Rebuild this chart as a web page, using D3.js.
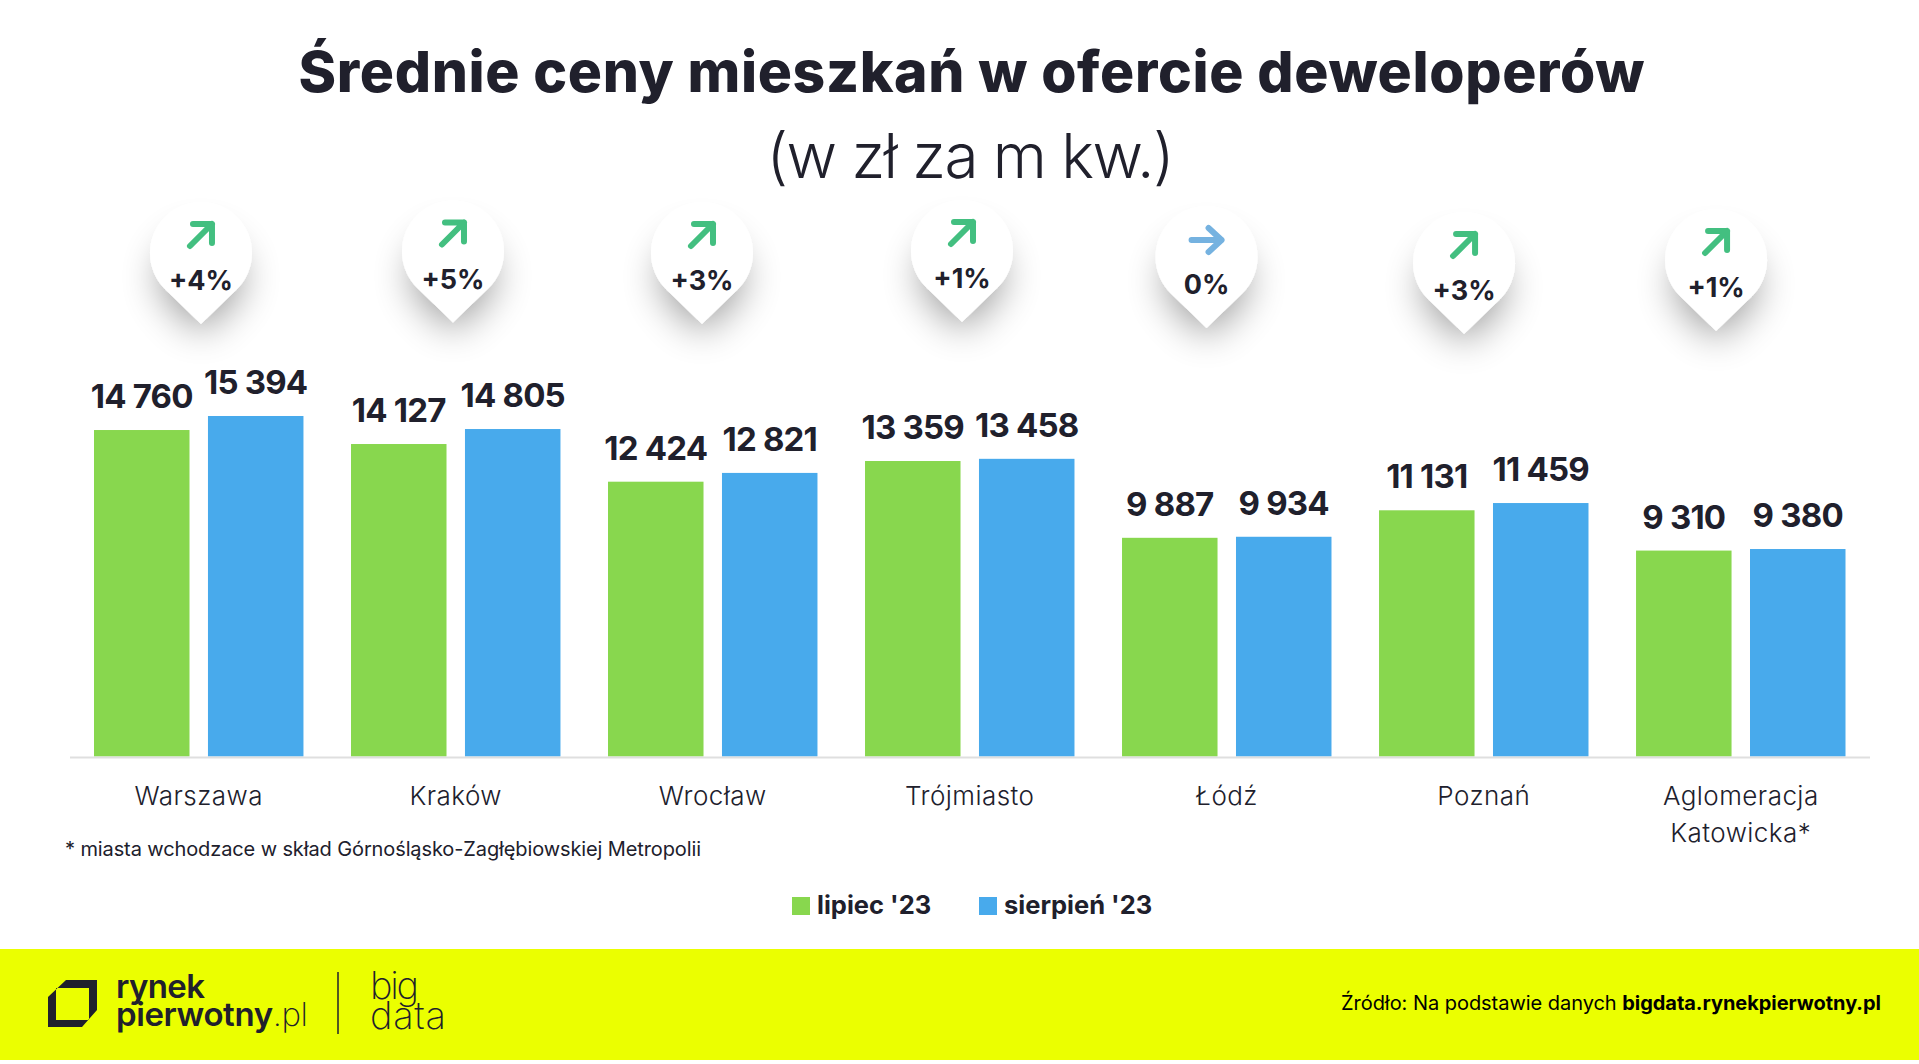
<!DOCTYPE html>
<html lang="pl"><head><meta charset="utf-8">
<script src="https://cdn.jsdelivr.net/npm/d3@7"></script>
<style>
html,body{margin:0;padding:0;background:#fff;overflow:hidden}
svg{display:block}
text{font-family:Inter,"Noto Sans",sans-serif;fill:#20202c}
</style></head><body><div id="chart"></div>
<script>
const cities=["Warszawa","Kraków","Wrocław","Trójmiasto","Łódź","Poznań","Aglomeracja Katowicka*"];
const july=[14760,14127,12424,13359,9887,11131,9310];
const august=[15394,14805,12821,13458,9934,11459,9380];
const changes=["+4%","+5%","+3%","+1%","0%","+3%","+1%"];
const seriesNames=["lipiec '23","sierpień '23"];
// layout of the hand-placed pins: offset from group centre, tip height
const pinDx=[2.25,-2.75,-10.75,-7.75,-20.2,-19.7,-24.7];
const pinTipY=[324,322.5,324,322,328,334,331];

const W=1919,H=1064,C={g:"#88d74e",b:"#48aaec",ink:"#20202c",up:"#43bf80",flat:"#75b2e0",lime:"#ebff00"};
const svg=d3.select("#chart").append("svg").attr("width",W).attr("height",H).attr("viewBox",[0,0,W,H]);
const defs=svg.append("defs");
const f=defs.append("filter").attr("id","pinShadow").attr("x","-100%").attr("y","-80%").attr("width","300%").attr("height","300%");
f.append("feMorphology").attr("in","SourceAlpha").attr("operator","erode").attr("radius",8).attr("result","e");
f.append("feGaussianBlur").attr("in","e").attr("stdDeviation",19).attr("result","b");
f.append("feOffset").attr("in","b").attr("dy",24).attr("result","o");
f.append("feComponentTransfer").attr("in","o").attr("result","a").append("feFuncA").attr("type","linear").attr("slope",.4);
const fm=f.append("feMerge");
fm.append("feMergeNode").attr("in","a");
fm.append("feMergeNode").attr("in","SourceGraphic");

const fit=(s,w)=>s.attr("textLength",w).attr("lengthAdjust","spacing");

// title
fit(svg.append("text").attr("x",971.5).attr("y",92).attr("text-anchor","middle").attr("font-size",57).attr("font-weight",800).text("Średnie ceny mieszkań w ofercie deweloperów"),1346);
fit(svg.append("text").attr("x",970.5).attr("y",178).attr("text-anchor","middle").attr("font-size",62).attr("font-weight",300).text("(w zł za m kw.)"),408);

// scales
const x0=d3.scaleBand().domain(cities).range([94,1845.5]).paddingInner(.185);
const x1=d3.scaleBand().domain(seriesNames).range([0,x0.bandwidth()]).paddingInner(.162);
const y=d3.scaleLinear().domain([0,15394]).range([756.5,416]);
const series=[{n:seriesNames[0],v:july,c:C.g},{n:seriesNames[1],v:august,c:C.b}];

// bars and labels
series.forEach(s=>{
  const g=svg.append("g");
  g.selectAll("rect").data(s.v).join("rect")
    .attr("x",(d,i)=>x0(cities[i])+x1(s.n)).attr("y",d=>y(d))
    .attr("width",x1.bandwidth()).attr("height",d=>y(0)-y(d)).attr("fill",s.c);
  g.selectAll("text").data(s.v).join("text")
    .attr("x",(d,i)=>x0(cities[i])+x1(s.n)+x1.bandwidth()/2).attr("y",d=>y(d)-22)
    .attr("text-anchor","middle").attr("font-size",33).attr("font-weight",700).attr("letter-spacing",-0.8)
    .text(d=>d3.format(",")(d).replace(","," "));
});

// baseline and category axis
svg.append("line").attr("x1",70).attr("x2",1870).attr("y1",757.5).attr("y2",757.5).attr("stroke","#dfdfdf").attr("stroke-width",2);
const axis=svg.append("g").attr("transform","translate(0,757)").call(d3.axisBottom(x0).tickSize(0).tickPadding(0));
axis.select(".domain").remove();
axis.selectAll(".tick text").each(function(d){
  const t=d3.select(this).text(null).attr("y",0).attr("dy",null).attr("font-size",26).attr("font-weight",300).attr("letter-spacing",0.45).style("font-family","Inter").attr("fill",C.ink);
  d.split(" ").forEach((p,i)=>t.append("tspan").attr("x",0).attr("y",48+i*37).text(p));
});

// pins
const pinPath=(r,d)=>{
  const a=Math.asin(r/d),tx=r*Math.cos(a),ty=r*Math.sin(a);
  return `M0,0L${-tx},${-d+ty}A${r},${r} 0 1 1 ${tx},${-d+ty}Z`;
};
const pins=svg.append("g").selectAll("g").data(changes).join("g")
  .attr("transform",(d,i)=>`translate(${x0(cities[i])+x0.bandwidth()/2+pinDx[i]},${pinTipY[i]})`);
pins.append("path").attr("d",pinPath(51,71)).attr("fill","#fff").attr("filter","url(#pinShadow)");
pins.append("path").attr("d",d=>d==="0%"?"M-15,-88H15M2,-100L15,-88L2,-76":"M-11,-78L11,-100M-8,-100H11V-81")
  .attr("fill","none").attr("stroke",d=>d==="0%"?C.flat:C.up).attr("stroke-width",6).attr("stroke-linecap","round").attr("stroke-linejoin","round");
pins.append("text").attr("y",-34).attr("text-anchor","middle").attr("font-size",27).attr("font-weight",700).text(d=>d);

// footnote
fit(svg.append("text").attr("x",65).attr("y",856).attr("font-size",20).attr("font-weight",400).text("* miasta wchodzace w skład Górnośląsko-Zagłębiowskiej Metropolii"),636);

// legend
const legend=svg.append("g").selectAll("g").data(series).join("g");
legend.append("rect").attr("x",(d,i)=>i?979:792).attr("y",897).attr("width",18).attr("height",18).attr("fill",d=>d.c);
legend.append("text").attr("x",(d,i)=>i?1004:817).attr("y",914).attr("font-size",25.5).attr("font-weight",700).text(d=>d.n);

// footer
svg.append("rect").attr("x",0).attr("y",949).attr("width",W).attr("height",111).attr("fill",C.lime);
svg.append("path").attr("fill-rule","evenodd").attr("fill",C.ink).attr("d","M66,980H97V1010L82,1027H48V997ZM56,988V1020H89V988Z");
fit(svg.append("text").attr("x",116).attr("y",998).attr("font-size",33).attr("font-weight",600).text("rynek"),89);
const pw=svg.append("text").attr("x",116).attr("y",1026).attr("font-size",33).attr("font-weight",600);
pw.append("tspan").text("pierwotny");
pw.append("tspan").attr("font-weight",200).text(".pl");
fit(pw,192);
svg.append("line").attr("x1",338).attr("x2",338).attr("y1",972).attr("y2",1034).attr("stroke",C.ink).attr("stroke-width",1.5);
fit(svg.append("text").attr("x",370).attr("y",999).attr("font-size",38).attr("font-weight",200).text("big"),49);
fit(svg.append("text").attr("x",370).attr("y",1029).attr("font-size",38).attr("font-weight",200).text("data"),76);
const src=svg.append("text").attr("x",1341).attr("y",1010).attr("font-size",20).style("fill","#000");
src.append("tspan").attr("font-weight",400).text("Źródło: Na podstawie danych ");
src.append("tspan").attr("font-weight",700).text("bigdata.rynekpierwotny.pl");
fit(src,540);
</script></body></html>
